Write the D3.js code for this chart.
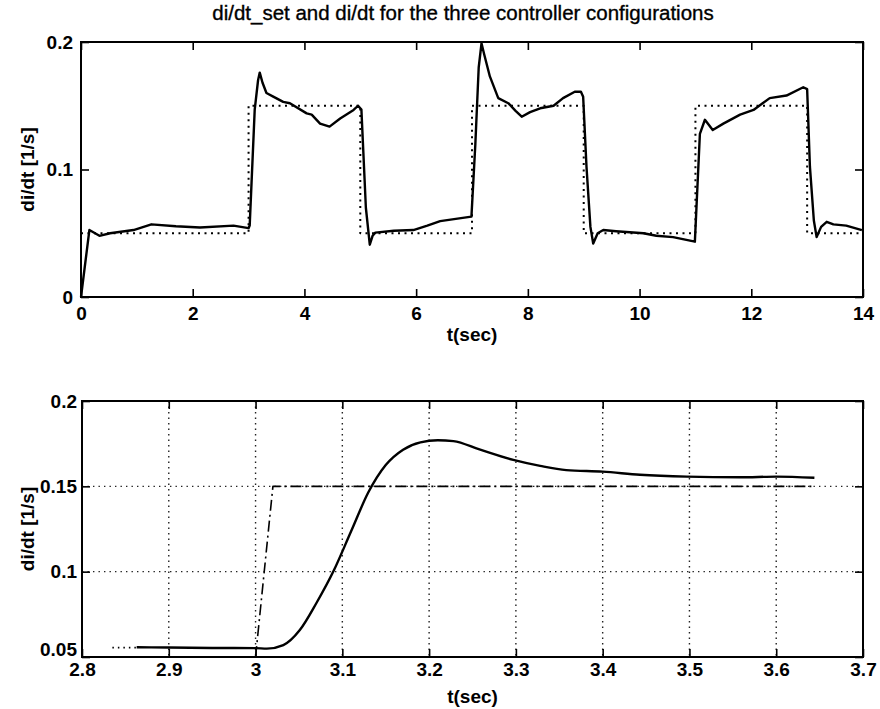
<!DOCTYPE html>
<html>
<head>
<meta charset="utf-8">
<script src="https://cdn.jsdelivr.net/npm/d3@7"></script>
<style>
  html, body { margin: 0; padding: 0; background: #fff; }
  svg text { font-family: "Liberation Sans", Arial, Helvetica, sans-serif; fill: #000; }
</style>
</head>
<body>
<svg id="chart" width="880" height="709"></svg>
<script>
// ---------- Data ----------
const chartTitle = "di/dt_set and di/dt for the three controller configurations";
const xLabel = "t(sec)";
const yLabel = "di/dt [1/s]";

// Top panel: measured di/dt
const topTime = [0, 0.15, 0.33, 0.52, 0.94, 1.26, 1.7, 2.13, 2.73, 3.0, 3.02, 3.11, 3.17, 3.2, 3.25, 3.32, 3.45, 3.62, 3.74, 4.04, 4.13, 4.28, 4.45, 4.64, 4.88, 4.96, 5.02, 5.1, 5.17, 5.22, 5.27, 5.6, 5.95, 6.2, 6.43, 6.99, 7.06, 7.12, 7.17, 7.22, 7.32, 7.47, 7.65, 7.78, 7.89, 8.04, 8.22, 8.46, 8.63, 8.84, 8.95, 8.99, 9.05, 9.12, 9.17, 9.25, 9.35, 9.58, 10.07, 10.3, 10.6, 10.99, 11.08, 11.17, 11.31, 11.5, 11.8, 12.04, 12.33, 12.63, 12.93, 13.0, 13.05, 13.12, 13.17, 13.25, 13.35, 13.47, 13.7, 13.98];
const topValue = [0, 0.0525, 0.048, 0.05, 0.0525, 0.057, 0.0555, 0.0545, 0.056, 0.054, 0.056, 0.147, 0.17, 0.176, 0.168, 0.16, 0.157, 0.153, 0.152, 0.144, 0.143, 0.136, 0.1336, 0.140, 0.1467, 0.15, 0.147, 0.07, 0.041, 0.048, 0.0505, 0.052, 0.0525, 0.056, 0.0595, 0.063, 0.12, 0.18, 0.199, 0.19, 0.173, 0.156, 0.152, 0.146, 0.1414, 0.145, 0.148, 0.15, 0.156, 0.161, 0.161, 0.157, 0.102, 0.055, 0.042, 0.05, 0.0525, 0.0516, 0.05, 0.048, 0.047, 0.0434, 0.128, 0.139, 0.131, 0.136, 0.143, 0.1467, 0.156, 0.158, 0.1645, 0.163, 0.102, 0.06, 0.047, 0.055, 0.059, 0.057, 0.056, 0.0525];

// Top panel: di/dt_set (dotted step signal)
const setTime  = [0, 3, 3, 5, 5, 7, 7, 9, 9, 11, 11, 13, 13, 14];
const setValue = [0.05, 0.05, 0.15, 0.15, 0.05, 0.05, 0.15, 0.15, 0.05, 0.05, 0.15, 0.15, 0.05, 0.05];

const topXTicks = [0, 2, 4, 6, 8, 10, 12, 14];
const topYTicks = [0, 0.1, 0.2];

// Bottom panel: zoom on the first step
const zoomTime  = [2.863, 2.9, 2.95, 3.0, 3.013, 3.032, 3.051, 3.07, 3.09, 3.11, 3.13, 3.15, 3.17, 3.19, 3.21, 3.228, 3.258, 3.297, 3.328, 3.358, 3.40, 3.443, 3.497, 3.558, 3.6, 3.644];
const zoomValue = [0.0557, 0.0556, 0.0553, 0.0552, 0.0549, 0.057, 0.0658, 0.0815, 0.1005, 0.1235, 0.1465, 0.1625, 0.1715, 0.1758, 0.177, 0.1765, 0.1716, 0.1655, 0.162, 0.1595, 0.1586, 0.1568, 0.1557, 0.1553, 0.1557, 0.155];

const zoomSetTime  = [3.0, 3.02, 3.645];
const zoomSetValue = [0.05, 0.15, 0.15];

const zoomDotTime  = [2.835, 2.866];
const zoomDotValue = [0.0555, 0.0555];

const bottomXTicks = [2.8, 2.9, 3.0, 3.1, 3.2, 3.3, 3.4, 3.5, 3.6, 3.7];
const bottomYTicks = [0.05, 0.1, 0.15, 0.2];

// ---------- Drawing ----------
const svg = d3.select("#chart");
const FONT = 19;

function zip(xs, ys) { return xs.map((x, i) => [x, ys[i]]); }

function panel(cfg) {
  const x = d3.scaleLinear().domain(cfg.xDomain).range([cfg.left, cfg.right]);
  const y = d3.scaleLinear().domain(cfg.yDomain).range([cfg.bottom, cfg.top]);
  const g = svg.append("g");

  // grid
  if (cfg.grid) {
    const gx = cfg.xTicks.filter(t => t > cfg.xDomain[0] + 1e-9 && t < cfg.xDomain[1] - 1e-9);
    const gy = cfg.yTicks.filter(t => t > cfg.yDomain[0] + 1e-9 && t < cfg.yDomain[1] - 1e-9);
    g.selectAll(".gx").data(gx).enter().append("line")
      .attr("x1", d => x(d)).attr("x2", d => x(d))
      .attr("y1", cfg.top).attr("y2", cfg.bottom)
      .attr("stroke", "#222").attr("stroke-width", 1.4)
      .attr("stroke-dasharray", "1.4,4.1");
    g.selectAll(".gy").data(gy).enter().append("line")
      .attr("x1", cfg.left).attr("x2", cfg.right)
      .attr("y1", d => y(d)).attr("y2", d => y(d))
      .attr("stroke", "#222").attr("stroke-width", 1.4)
      .attr("stroke-dasharray", "1.4,4.1");
  }

  // axes (inward ticks)
  const fmt = cfg.fmt;
  const ax = (gen, tr, ticks, labels, pad) => {
    const a = gen.tickValues(ticks).tickSizeInner(-8).tickSizeOuter(0).tickPadding(pad)
      .tickFormat(labels ? fmt : () => "");
    const s = g.append("g").attr("transform", tr).call(a);
    s.select(".domain").remove();
    s.selectAll(".tick line").attr("stroke", "#000").attr("stroke-width", 1.6);
    s.selectAll("text").attr("font-size", FONT).attr("font-weight", "bold").attr("fill", "#000");
    return s;
  };
  ax(d3.axisBottom(x), `translate(0,${cfg.bottom})`, cfg.xTicks, true, cfg.xPad);
  ax(d3.axisTop(x), `translate(0,${cfg.top})`, cfg.xTicks, false, 0);
  const yl = ax(d3.axisLeft(y), `translate(${cfg.left},0)`, cfg.yTicks, true, cfg.yPad);
  ax(d3.axisRight(y), `translate(${cfg.right},0)`, cfg.yTicks, false, 0);
  if (cfg.lowLabelShift) {
    yl.selectAll(".tick").filter(d => Math.abs(d - cfg.yDomain[0]) < 1e-9)
      .select("text").attr("dy", null).attr("y", -cfg.lowLabelShift);
  }

  // box
  g.append("rect").attr("x", cfg.left).attr("y", cfg.top)
    .attr("width", cfg.right - cfg.left).attr("height", cfg.bottom - cfg.top)
    .attr("fill", "none").attr("stroke", "#000").attr("stroke-width", 2);

  // series
  cfg.series.forEach(s => {
    const line = d3.line().x(d => x(d[0])).y(d => y(d[1])).curve(s.curve || d3.curveLinear);
    g.append("path").datum(s.data).attr("d", line)
      .attr("fill", "none").attr("stroke", "#000")
      .attr("stroke-width", s.width).attr("stroke-dasharray", s.dash || null)
      .attr("stroke-linejoin", "round").attr("stroke-linecap", s.cap || "butt");
  });

  // labels
  g.append("text").attr("x", (cfg.left + cfg.right) / 2).attr("y", cfg.xLabelY)
    .attr("text-anchor", "middle").attr("font-size", FONT).attr("font-weight", "bold")
    .text(xLabel);
  g.append("text").attr("transform", `translate(${cfg.yLabelX},${(cfg.top + cfg.bottom) / 2}) rotate(-90)`)
    .attr("text-anchor", "middle").attr("font-size", FONT).attr("font-weight", "bold")
    .text(yLabel);
  return { x, y };
}

// title
svg.append("text").attr("x", 463).attr("y", 20)
  .attr("text-anchor", "middle").attr("font-size", 20.5)
  .attr("stroke", "#000").attr("stroke-width", 0.35)
  .text(chartTitle);

panel({
  left: 81, right: 863, top: 42, bottom: 297,
  xDomain: [0, 14], yDomain: [0, 0.2],
  xTicks: topXTicks, yTicks: topYTicks,
  fmt: d => d === 0 ? "0" : String(d),
  xPad: 10, yPad: 8, xLabelY: 341, yLabelX: 34, grid: false,
  series: [
    { data: zip(setTime, setValue), width: 2, dash: "2,4.5" },
    { data: zip(topTime, topValue), width: 2.4 }
  ]
});

panel({
  left: 82, right: 863, top: 401, bottom: 657,
  xDomain: [2.8, 3.7], yDomain: [0.05, 0.2],
  xTicks: bottomXTicks, yTicks: bottomYTicks,
  fmt: d => String(+d.toFixed(2)),
  xPad: 6, yPad: 5, xLabelY: 703, yLabelX: 34, grid: true, lowLabelShift: 2,
  series: [
    { data: zip(zoomDotTime, zoomDotValue), width: 1.6, dash: "1.5,4" },
    { data: zip(zoomSetTime, zoomSetValue), width: 1.6, dash: "11,4,2,4" },
    { data: zip(zoomTime, zoomValue), width: 2.4, curve: d3.curveMonotoneX }
  ]
});
</script>
</body>
</html>
